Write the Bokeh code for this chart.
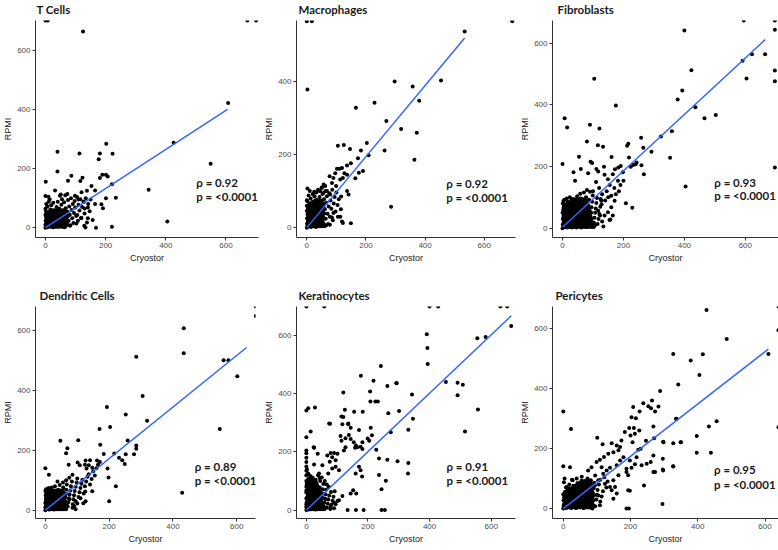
from bokeh.plotting import figure
from bokeh.layouts import column, row
from bokeh.models import Label, Range1d, FixedTicker
from bokeh.embed import file_html
from bokeh.resources import INLINE

# ---------------- data ----------------
titles = ["T Cells", "Macrophages", "Fibroblasts", "Dendritic Cells", "Keratinocytes", "Pericytes"]
rho_values = ["0.92", "0.92", "0.93", "0.89", "0.91", "0.95"]
p_values = ["<0.0001", "<0.0001", "<0.0001", "<0.0001", "<0.0001", "<0.0001"]
x_label = "Cryostor"
y_label = "RPMI"

tcells_points = [
    (0, 700), (8, 700), (125, 663), (671, 700), (700, 700), (607, 421), (426, 287), (549, 216), (343, 128), (405, 21),
    (40, 257), (113, 251), (181, 251), (202, 284), (223, 250), (177, 231), (40, 190), (1, 155), (86, 176), (75, 159),
    (116, 158), (123, 169), (189, 179), (201, 179), (207, 173), (181, 168), (221, 147), (153, 141), (234, 101), (201, 100),
    (186, 79), (191, 66), (221, 3), (168, 0), (129, 7), (133, 1), (0, 107), (10, 105), (32, 126), (51, 112), (73, 114),
    (165, 126), (141, 68), (130, 65), (106, 43), (119, 32), (141, 32), (157, 26), (103, 14), (81, 7),
    (165, 80), (150, 95), (128, 88), (110, 95), (98, 108), (120, 120), (138, 125),
    (0, 0), (2, 6), (5, 14), (1, 24), (3, 34), (0, 44), (2, 56), (6, 2), (8, 20), (10, 30), (9, 40), (12, 8), (13, 50),
    (15, 16), (16, 62), (18, 26), (20, 4), (21, 38), (23, 14), (25, 48), (27, 2), (28, 28), (30, 58), (32, 10), (34, 40),
    (35, 20), (37, 70), (39, 4), (40, 32), (42, 52), (44, 14), (46, 64), (47, 26), (49, 42), (51, 6), (53, 78), (54, 34),
    (56, 56), (58, 16), (60, 46), (62, 86), (63, 2), (65, 28), (67, 66), (69, 40), (71, 12), (73, 54), (75, 94), (77, 24),
    (79, 72), (81, 44), (83, 8), (85, 100), (87, 60), (89, 32), (91, 80), (93, 16), (95, 50), (97, 90), (99, 68),
    (102, 40), (105, 104), (108, 24), (110, 78), (113, 58), (116, 96), (119, 34), (122, 70), (126, 88), (130, 48),
    (134, 100), (138, 18), (142, 80), (147, 56), (0, 64), (3, 80), (6, 72), (11, 88), (19, 76), (26, 84), (41, 88),
    (55, 96), (66, 110), (14, 96), (48, 108),
]
# dense core of the cloud: (y, [x values along that row])
tcells_core = [
    (3, [2, 10, 18, 26, 34, 42, 50, 58, 66]),
    (10, [0, 8, 16, 24, 32, 40, 48, 56, 64, 72]),
    (17, [4, 12, 20, 28, 36, 44, 52, 60, 68]),
    (24, [1, 9, 17, 25, 33, 41, 49, 57, 65, 73]),
    (31, [5, 13, 21, 29, 37, 45, 53, 61, 69]),
    (38, [2, 10, 18, 26, 34, 42, 50, 58, 66, 74]),
    (45, [6, 14, 22, 30, 38, 46, 54, 62, 70]),
    (52, [11, 19, 27, 35, 43, 51, 59, 67]),
    (59, [24, 32, 40, 48, 56, 64]),
]
macro_points = [
    (0, 565), (17, 565), (695, 565), (534, 537), (2, 378), (297, 400), (358, 386), (454, 403), (380, 347), (229, 342),
    (166, 328), (269, 292), (319, 270), (372, 260), (203, 232), (105, 224), (125, 226), (146, 215), (183, 211), (263, 211),
    (364, 186), (209, 198), (173, 190), (190, 155), (176, 150), (149, 176), (136, 170), (119, 163), (110, 161), (102, 161),
    (96, 149), (164, 135), (127, 149), (136, 145), (122, 136), (113, 132), (90, 136), (77, 141), (85, 122), (99, 114),
    (2, 107), (25, 98), (0, 75), (116, 85), (136, 100), (62, 114), (51, 109), (45, 100), (56, 95), (68, 100), (79, 91),
    (285, 57), (113, 30), (119, 17), (122, 13), (149, 12), (85, 28), (141, 91),
    (0, 0), (2, 8), (4, 16), (1, 26), (3, 36), (0, 46), (5, 56), (7, 4), (8, 22), (10, 32), (11, 12), (12, 44), (14, 2),
    (15, 28), (16, 60), (18, 18), (19, 38), (21, 6), (22, 50), (24, 26), (25, 68), (27, 12), (28, 40), (30, 58), (31, 2),
    (33, 30), (34, 76), (36, 18), (37, 48), (39, 64), (40, 8), (42, 36), (43, 84), (45, 22), (46, 56), (48, 70), (50, 12),
    (51, 44), (53, 92), (54, 30), (56, 62), (58, 78), (59, 4), (61, 50), (63, 100), (64, 24), (66, 68), (68, 86), (70, 38),
    (72, 10), (74, 58), (76, 94), (78, 30), (80, 74), (83, 52), (86, 104), (88, 20), (91, 66), (94, 84), (97, 44),
    (100, 96), (104, 62), (108, 78), (0, 60), (2, 72), (6, 88), (9, 66), (13, 80), (20, 92), (26, 86), (32, 96), (38, 104),
    (44, 100), (50, 110), (57, 118), (10, 100), (4, 52), (18, 70), (65, 6), (78, 8), (90, 40), (105, 30), (115, 50),
]
macro_core = [
    (4, [3, 10, 17, 24, 31, 38, 45, 52]),
    (11, [1, 8, 15, 22, 29, 36, 43, 50, 57]),
    (18, [4, 11, 18, 25, 32, 39, 46, 53]),
    (25, [2, 9, 16, 23, 30, 37, 44, 51, 58]),
    (32, [5, 12, 19, 26, 33, 40, 47, 54]),
    (39, [3, 10, 17, 24, 31, 38, 45, 52, 59]),
    (46, [6, 13, 20, 27, 34, 41, 48, 55]),
    (53, [9, 16, 23, 30, 37, 44, 51, 58]),
    (60, [12, 19, 26, 33, 40, 47, 54]),
    (67, [20, 27, 34, 41, 48, 55]),
    (74, [28, 35, 42, 49]),
]
fibro_points = [
    (595, 673), (697, 673), (697, 643), (400, 641), (697, 511), (697, 476), (697, 197), (591, 543), (622, 564), (665, 564),
    (604, 485), (423, 512), (393, 446), (378, 417), (436, 392), (466, 356), (503, 367), (323, 297), (359, 314), (353, 228),
    (404, 135), (104, 484), (175, 398), (7, 356), (15, 326), (90, 335), (121, 323), (80, 281), (116, 269), (133, 264),
    (0, 208), (54, 232), (97, 211), (92, 215), (258, 293), (212, 267), (216, 274), (265, 261), (292, 248), (161, 231),
    (218, 229), (243, 213), (240, 207), (232, 205), (259, 204), (267, 175), (224, 199), (191, 202), (183, 197), (172, 191),
    (208, 81), (229, 66), (157, 28), (123, 41), (60, 192), (36, 181), (41, 154), (84, 178), (111, 192), (117, 184),
    (136, 199), (138, 173), (149, 159), (165, 175), (182, 154), (198, 181), (200, 154), (117, 57), (149, 52), (160, 68),
    (138, 41), (128, 78), (171, 89), (95, 30), (82, 19), (106, 9), (154, 27), (165, 41),
    (120, 130), (130, 110), (145, 120), (155, 140), (170, 130), (185, 120), (110, 150), (125, 95), (140, 90), (160, 105),
    (175, 110), (190, 140), (100, 120), (150, 100),
    (0, 0), (2, 10), (4, 20), (1, 30), (3, 40), (0, 50), (2, 60), (4, 70), (1, 80), (3, 88), (8, 4), (9, 16), (10, 28),
    (11, 42), (8, 54), (10, 66), (12, 76), (15, 2), (16, 12), (17, 24), (18, 36), (16, 48), (19, 60), (20, 84), (22, 6),
    (23, 18), (24, 30), (25, 44), (26, 56), (27, 70), (30, 2), (31, 14), (32, 26), (33, 38), (34, 52), (35, 64), (36, 78),
    (38, 8), (39, 20), (40, 32), (41, 46), (42, 58), (43, 72), (44, 90), (46, 2), (47, 14), (48, 26), (49, 40), (50, 54),
    (51, 66), (52, 80), (54, 8), (55, 20), (56, 34), (57, 48), (58, 62), (59, 76), (60, 96), (62, 2), (63, 14), (64, 28),
    (65, 42), (66, 56), (67, 70), (68, 86), (70, 8), (71, 20), (72, 36), (73, 50), (74, 64), (75, 80), (77, 100), (79, 4),
    (80, 16), (81, 30), (82, 44), (84, 58), (85, 74), (87, 92), (89, 10), (90, 24), (92, 38), (93, 52), (95, 68), (97, 86),
    (99, 106), (101, 4), (103, 18), (105, 34), (107, 50), (109, 64), (111, 82), (113, 98), (115, 14), (118, 30),
    (121, 46), (124, 70), (127, 90), (130, 22), (134, 6), (6, 92), (14, 96), (24, 100), (34, 94), (48, 104), (58, 112),
    (70, 116), (80, 124), (90, 118),
]
fibro_core = [
    (4, [3, 12, 21, 30, 39, 48, 57, 66, 75, 84, 93, 102]),
    (13, [1, 10, 19, 28, 37, 46, 55, 64, 73, 82, 91, 100]),
    (22, [5, 14, 23, 32, 41, 50, 59, 68, 77, 86, 95]),
    (31, [2, 11, 20, 29, 38, 47, 56, 65, 74, 83, 92]),
    (40, [6, 15, 24, 33, 42, 51, 60, 69, 78, 87]),
    (49, [3, 12, 21, 30, 39, 48, 57, 66, 75, 84, 93]),
    (58, [7, 16, 25, 34, 43, 52, 61, 70, 79, 88]),
    (67, [4, 13, 22, 31, 40, 49, 58, 67, 76, 85]),
    (76, [10, 19, 28, 37, 46, 55, 64, 73, 82]),
    (85, [16, 25, 34, 43, 52, 61, 70, 79]),
    (94, [30, 39, 48, 57, 66, 75]),
]
dendri_points = [
    (660, 681), (660, 649), (434, 608), (434, 525), (285, 513), (559, 501), (574, 501), (602, 448), (305, 382), (193, 345),
    (319, 299), (252, 320), (547, 271), (170, 271), (203, 278), (103, 234), (47, 232), (69, 207), (65, 190), (172, 219),
    (258, 233), (285, 216), (285, 205), (278, 187), (252, 187), (249, 154), (216, 189), (241, 167), (231, 175), (183, 188),
    (171, 161), (195, 139), (221, 80), (200, 30), (429, 58), (0, 140), (11, 118), (73, 152), (124, 152), (101, 159),
    (140, 167), (108, 150), (126, 166), (136, 150), (129, 139), (147, 142), (162, 166), (165, 152), (198, 109), (147, 63),
    (85, 8), (90, 13), (119, 23), (126, 30), (95, 3), (100, 22), (75, 36), (59, 20),
    (0, 0), (1, 8), (3, 16), (0, 24), (2, 32), (4, 40), (1, 48), (3, 56), (0, 64), (2, 70), (6, 4), (7, 12), (8, 22),
    (9, 30), (6, 38), (8, 46), (10, 54), (7, 62), (12, 2), (13, 10), (14, 18), (15, 28), (16, 36), (13, 44), (17, 52),
    (18, 64), (20, 6), (21, 14), (22, 24), (23, 32), (24, 42), (25, 50), (27, 2), (28, 12), (29, 20), (30, 30), (31, 40),
    (32, 58), (34, 8), (35, 18), (36, 28), (37, 38), (38, 48), (40, 68), (42, 4), (43, 14), (44, 24), (45, 36), (46, 46),
    (48, 60), (50, 10), (51, 20), (52, 32), (53, 44), (55, 56), (56, 76), (58, 6), (60, 18), (61, 30), (62, 42), (64, 54),
    (65, 68), (67, 86), (70, 12), (72, 26), (74, 40), (76, 52), (78, 66), (80, 80), (83, 96), (86, 20), (88, 36), (90, 50),
    (92, 64), (95, 78), (98, 92), (100, 106), (104, 44), (107, 60), (110, 74), (113, 88), (116, 102), (120, 56), (124, 80),
    (128, 96), (132, 112), (136, 120), (140, 86), (145, 104), (150, 130), (155, 116), (160, 140), (30, 80), (20, 76),
    (45, 84), (55, 92), (65, 100), (75, 108), (85, 118), (38, 96), (10, 74), (95, 30), (110, 40), (125, 62),
]
dendri_core = [
    (3, [2, 9, 16, 23, 30, 37, 44, 51, 58, 65]),
    (10, [0, 7, 14, 21, 28, 35, 42, 49, 56, 63]),
    (17, [4, 11, 18, 25, 32, 39, 46, 53, 60, 67]),
    (24, [1, 8, 15, 22, 29, 36, 43, 50, 57]),
    (31, [5, 12, 19, 26, 33, 40, 47, 54, 61]),
    (38, [2, 9, 16, 23, 30, 37, 44, 51, 58]),
    (45, [6, 13, 20, 27, 34, 41, 48, 55, 62]),
    (52, [3, 10, 17, 24, 31, 38, 45, 52, 59]),
    (59, [7, 14, 21, 28, 35, 42, 49, 56]),
    (66, [4, 11, 18, 25, 32, 39, 46, 53]),
]
kerat_points = [
    (0, 700), (58, 700), (400, 700), (428, 700), (630, 700), (652, 700), (665, 633), (555, 591), (582, 595), (391, 605),
    (393, 557), (394, 502), (242, 495), (177, 462), (218, 445), (453, 440), (491, 438), (508, 431), (491, 395), (293, 436),
    (263, 427), (292, 437), (207, 408), (224, 373), (232, 373), (208, 373), (120, 404), (343, 397), (557, 346), (346, 314),
    (301, 341), (266, 333), (183, 338), (155, 338), (125, 345), (0, 342), (6, 350), (28, 353), (120, 320), (136, 298),
    (331, 276), (515, 270), (274, 268), (0, 250), (74, 298), (14, 270), (24, 216), (209, 283), (213, 257), (199, 246),
    (182, 233), (204, 238), (161, 222), (101, 194), (182, 210), (236, 177), (263, 173), (296, 168), (331, 162), (330, 126),
    (236, 121), (258, 101), (244, 72), (92, 65), (101, 31), (134, 0), (161, 0), (186, 0), (244, 0), (255, 0), (152, 68),
    (144, 57), (162, 57), (117, 48), (106, 34), (90, 25), (37, 194), (77, 297), (114, 322), (117, 295), (136, 295),
    (144, 283), (171, 275), (111, 255), (114, 238), (127, 247), (138, 258), (144, 244), (154, 233), (165, 216), (158, 214),
    (176, 218), (127, 216), (122, 205), (227, 207), (25, 214), (79, 196), (68, 188), (84, 182), (90, 196), (95, 171),
    (76, 166), (95, 149), (84, 143), (106, 137), (71, 126), (52, 154), (25, 157), (41, 126), (43, 110), (171, 149),
    (176, 137), (181, 115), (160, 126), (63, 37), (41, 25), (79, 14),
    (0, 20), (0, 40), (0, 60), (0, 80), (0, 100), (0, 120), (0, 135), (0, 150), (0, 165), (0, 180), (0, 195), (0, 205),
    (1, 10), (1, 90), (2, 140),
    (0, 0), (3, 6), (5, 16), (2, 28), (4, 38), (6, 50), (3, 62), (5, 74), (2, 86), (4, 98), (8, 2), (9, 12), (10, 24),
    (11, 34), (9, 46), (12, 58), (10, 70), (13, 84), (11, 104), (15, 4), (16, 18), (17, 30), (18, 42), (16, 54), (19, 66),
    (18, 80), (20, 94), (22, 8), (23, 20), (24, 34), (25, 46), (26, 60), (27, 74), (28, 88), (30, 2), (31, 14), (32, 28),
    (33, 40), (34, 54), (35, 68), (36, 82), (38, 10), (39, 22), (40, 36), (41, 50), (42, 64), (43, 78), (45, 100), (46, 4),
    (47, 18), (48, 30), (50, 44), (51, 58), (53, 72), (55, 90), (57, 12), (58, 26), (60, 40), (62, 54), (64, 70), (67, 8),
    (69, 22), (71, 36), (74, 50), (78, 4), (81, 18), (85, 32), (90, 6), (95, 20), (12, 118), (6, 126), (20, 112),
    (30, 104), (38, 120), (50, 112), (60, 100), (66, 88), (72, 80), (80, 62), (88, 46),
]
kerat_core = [
    (3, [2, 9, 16, 23, 30, 37, 44, 51, 58]),
    (11, [0, 7, 14, 21, 28, 35, 42, 49]),
    (19, [4, 11, 18, 25, 32, 39, 46, 53]),
    (27, [1, 8, 15, 22, 29, 36, 43, 50]),
    (35, [5, 12, 19, 26, 33, 40, 47]),
    (43, [2, 9, 16, 23, 30, 37, 44, 51]),
    (51, [6, 13, 20, 27, 34, 41, 48]),
    (59, [3, 10, 17, 24, 31, 38, 45]),
    (67, [0, 7, 14, 21, 28, 35, 42]),
    (75, [4, 11, 18, 25, 32, 39]),
    (83, [1, 8, 15, 22, 29, 36]),
    (91, [5, 12, 19, 26, 33]),
    (99, [2, 9, 16, 23, 30]),
    (107, [6, 13, 20]),
]
peri_points = [
    (640, 673), (640, 594), (640, 271), (426, 661), (486, 565), (415, 514), (379, 493), (327, 515), (610, 515), (405, 445),
    (342, 413), (288, 392), (337, 299), (238, 351), (253, 341), (261, 334), (264, 360), (273, 323), (227, 323), (208, 338),
    (216, 301), (203, 304), (283, 340), (0, 323), (23, 265), (20, 138), (0, 141), (433, 273), (456, 291), (397, 242),
    (397, 186), (439, 186), (327, 141), (296, 130), (350, 221), (298, 221), (296, 166), (268, 122), (260, 155), (295, 15),
    (188, 0), (195, 0), (198, 59), (188, 122), (203, 136), (213, 148), (268, 273), (335, 299), (210, 268), (196, 268),
    (213, 249), (183, 255), (200, 243), (226, 260), (173, 227), (159, 210), (101, 236), (117, 214), (144, 218), (169, 205),
    (164, 194), (149, 188), (134, 183), (121, 172), (109, 163), (99, 155), (84, 138), (74, 127), (246, 226), (270, 234),
    (297, 223), (327, 218), (349, 221), (206, 221), (223, 196), (230, 199), (248, 149), (233, 144), (268, 177), (273, 122),
    (297, 127), (327, 140), (188, 133), (193, 111), (164, 111), (149, 94), (154, 72), (144, 61), (193, 61), (240, 77),
    (198, 160), (218, 171), (179, 171), (169, 160), (159, 144), (139, 136), (129, 127), (119, 116), (114, 138), (104, 94),
    (124, 83), (139, 72), (94, 77), (2, 88), (28, 94), (10, 72), (5, 55), (109, 11), (87, 0), (104, 44), (149, 33), (159, 50),
    (0, 0), (2, 8), (4, 18), (1, 28), (3, 38), (0, 48), (6, 2), (7, 14), (8, 24), (9, 34), (6, 44), (10, 54), (12, 4),
    (13, 16), (14, 28), (15, 40), (16, 52), (14, 64), (18, 8), (19, 20), (20, 32), (21, 44), (22, 58), (24, 2), (25, 14),
    (26, 26), (27, 38), (28, 50), (29, 66), (31, 8), (32, 20), (33, 32), (34, 46), (35, 58), (36, 74), (38, 2), (39, 14),
    (40, 28), (41, 40), (42, 54), (43, 68), (45, 84), (47, 8), (48, 22), (49, 36), (50, 50), (51, 64), (52, 78), (54, 92),
    (56, 14), (57, 28), (58, 42), (59, 58), (60, 72), (62, 88), (64, 4), (65, 20), (66, 36), (67, 52), (68, 66), (70, 82),
    (72, 100), (74, 12), (75, 28), (76, 44), (78, 60), (80, 76), (82, 94), (84, 20), (86, 36), (88, 52), (90, 68), (92, 86),
    (95, 110), (98, 30), (100, 46), (102, 62), (106, 80), (110, 96), (114, 40), (118, 58), (122, 104), (128, 70),
    (132, 90), (60, 2), (80, 4), (95, 8), (110, 24), (8, 70), (18, 80), (26, 96), (40, 100), (55, 106), (4, 100),
]
peri_core = [
    (4, [3, 11, 19, 27, 35, 43, 51, 59, 67, 75, 83]),
    (12, [1, 9, 17, 25, 33, 41, 49, 57, 65, 73, 81, 89]),
    (20, [5, 13, 21, 29, 37, 45, 53, 61, 69, 77, 85]),
    (28, [2, 10, 18, 26, 34, 42, 50, 58, 66, 74, 82, 90]),
    (36, [6, 14, 22, 30, 38, 46, 54, 62, 70, 78, 86]),
    (44, [3, 11, 19, 27, 35, 43, 51, 59, 67, 75, 83, 91]),
    (52, [7, 15, 23, 31, 39, 47, 55, 63, 71, 79, 87]),
    (60, [12, 20, 28, 36, 44, 52, 60, 68, 76, 84]),
    (68, [18, 26, 34, 42, 50, 58, 66, 74, 82, 90]),
    (76, [30, 38, 46, 54, 62, 70, 78, 86]),
    (84, [42, 50, 58, 66, 74, 82]),
    (92, [55, 63, 71, 79]),
]
all_points = [tcells_points, macro_points, fibro_points, dendri_points, kerat_points, peri_points]
all_cores = [tcells_core, macro_core, fibro_core, dendri_core, kerat_core, peri_core]

# fitted lm line endpoints (x0, y0, x1, y1)
fit_lines = [(0, 0, 605, 400), (0, 0, 534, 519), (0, 3, 665, 611),
             (0, 0, 631, 544), (0, 0, 665, 668), (0, 0, 610, 531)]

# axis ranges
x_ranges = [(-33, 708), (-35, 706), (-33, 709), (-31, 659), (-32, 679), (-32, 640)]
y_ranges = [(-33, 700), (-27, 567), (-30, 673), (-28, 681), (-29, 700), (-33, 673)]
x_ticks = [[0, 200, 400, 600]] * 6
y_ticks = [[0, 200, 400, 600], [0, 200, 400], [0, 200, 400, 600],
           [0, 200, 400, 600], [0, 200, 400, 600], [0, 200, 400, 600]]

# ---------------- layout / style ----------------
# (width, height, border_left, border_right, border_top, border_bottom, title_offset)
geom = [(261, 268, 32, 3, 17, 31, 1), (256, 268, 35, 2, 17, 31, 2), (261, 268, 32, 0, 19, 31, 5),
        (261, 282, 31, 6, 38, 27, 4), (256, 282, 34, 2, 38, 27, 2), (261, 282, 34, 0, 38, 32, 3)]
# annotation position as fraction of the frame (x of left edge, y of line 1, y of line 2)
ann_pos = [(0.721, 0.254, 0.191), (0.684, 0.251, 0.186), (0.716, 0.254, 0.193),
           (0.724, 0.247, 0.178), (0.685, 0.247, 0.178), (0.715, 0.230, 0.160)]

TXT_FONT = "Lato"
AX_FONT = "Liberation Sans"

figs = []
for i in range(6):
    w, h, bl, br, bt, bb, toff = geom[i]
    xr, yr = x_ranges[i], y_ranges[i]
    p = figure(width=w, height=h, output_backend="svg", toolbar_location=None,
               x_range=Range1d(*xr), y_range=Range1d(*yr),
               min_border_left=bl, min_border_right=br, min_border_top=bt, min_border_bottom=bb,
               title=titles[i])
    p.title.text_font = TXT_FONT
    p.title.text_font_style = "bold"
    p.title.text_font_size = "11.5px"
    p.title.text_color = "#1a1a1a"
    p.title.align = "left"
    p.title.offset = toff
    p.title.standoff = 5
    p.title.vertical_align = "top"
    p.outline_line_color = None
    p.grid.visible = False
    p.background_fill_color = "white"
    for ax in (p.xaxis[0], p.yaxis[0]):
        ax.axis_line_color = "#333333"
        ax.axis_line_width = 1
        ax.major_tick_line_color = "#333333"
        ax.major_tick_out = 3
        ax.major_tick_in = 0
        ax.minor_tick_line_color = None
        ax.major_label_text_font = AX_FONT
        ax.major_label_text_font_size = "8px"
        ax.major_label_text_color = "#4d4d4d"
        ax.major_label_standoff = 2
        ax.axis_label_text_font = AX_FONT
        ax.axis_label_text_font_size = "9px"
        ax.axis_label_text_font_style = "normal"
        ax.axis_label_text_color = "#222222"
    p.xaxis[0].axis_label = x_label
    p.yaxis[0].axis_label = y_label
    p.xaxis[0].axis_label_standoff = 2
    p.yaxis[0].axis_label_standoff = 1
    p.xaxis[0].ticker = FixedTicker(ticks=x_ticks[i])
    p.yaxis[0].ticker = FixedTicker(ticks=y_ticks[i])

    pts = list(all_points[i])
    for yv, xvals in all_cores[i]:
        pts.extend((xv, yv) for xv in xvals)
    xs = [a for a, b in pts]
    ys = [b for a, b in pts]
    p.scatter(xs, ys, size=4, color="black", line_width=0)

    x0, y0, x1, y1 = fit_lines[i]
    p.line([x0, x1], [y0, y1], line_color="#3366FF", line_width=1.5)

    fx, fy1, fy2 = ann_pos[i]
    lx = xr[0] + fx * (xr[1] - xr[0])
    ly1 = yr[0] + fy1 * (yr[1] - yr[0])
    ly2 = yr[0] + fy2 * (yr[1] - yr[0])
    for txt, ly in ((f"ρ = {rho_values[i]}", ly1), (f"p = {p_values[i]}", ly2)):
        p.add_layout(Label(x=lx, y=ly, text=txt, text_font=TXT_FONT, text_font_style="bold",
                           text_font_size="11.5px", text_color="#1a1a1a", text_baseline="middle",
                           text_align="left"))
    figs.append(p)

layout = column(row(figs[0], figs[1], figs[2]), row(figs[3], figs[4], figs[5]))
open("out.html", "w").write(file_html(layout, INLINE))
